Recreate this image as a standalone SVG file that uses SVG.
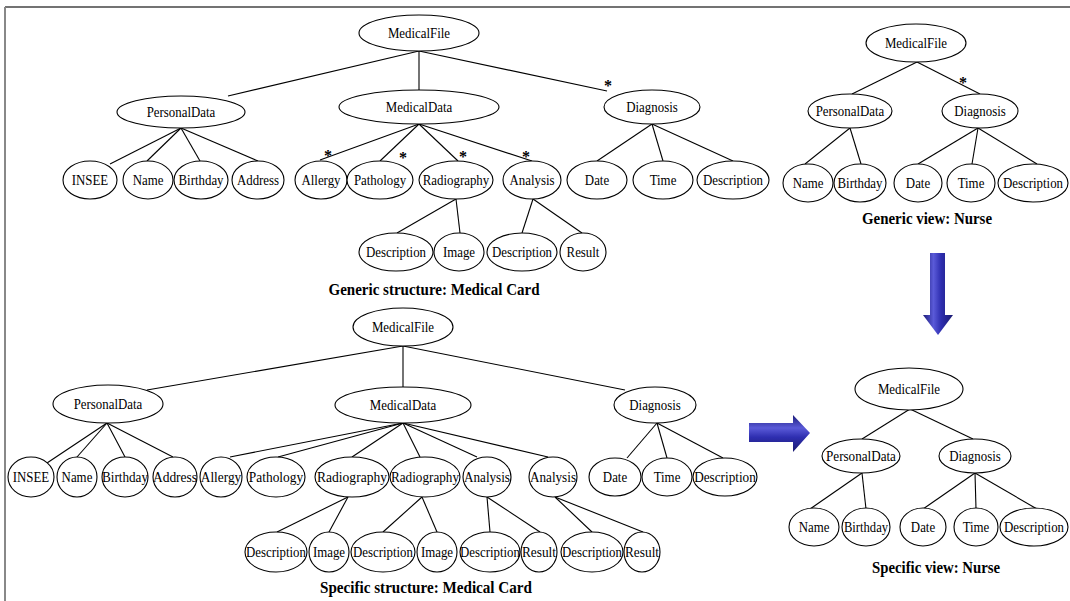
<svg xmlns="http://www.w3.org/2000/svg" width="1070" height="601" viewBox="0 0 1070 601">
<defs>
<style>
.n ellipse{fill:#fff;stroke:#000;stroke-width:1.1}
.n text{font-family:"Liberation Serif","Times New Roman",serif;font-size:14px;fill:#000;text-anchor:middle;transform-box:fill-box;transform-origin:center;transform:scaleX(0.92)}
.e line{stroke:#000;stroke-width:1.1}
.cap{font-family:"Liberation Serif","Times New Roman",serif;font-size:17px;font-weight:bold;fill:#000;text-anchor:middle}
.star{font-family:"Liberation Serif","Times New Roman",serif;font-size:16px;font-weight:bold;fill:#000;text-anchor:middle}
</style>
<linearGradient id="gv" x1="0" y1="0" x2="1" y2="0">
<stop offset="0" stop-color="#1c1c7a"/>
<stop offset="0.35" stop-color="#5a5ad8"/>
<stop offset="0.6" stop-color="#2e2eb0"/>
<stop offset="1" stop-color="#1a1a70"/>
</linearGradient>
<linearGradient id="gh" x1="0" y1="0" x2="0" y2="1">
<stop offset="0" stop-color="#1c1c7a"/>
<stop offset="0.35" stop-color="#5a5ad8"/>
<stop offset="0.6" stop-color="#2e2eb0"/>
<stop offset="1" stop-color="#1a1a70"/>
</linearGradient>
</defs>
<rect x="0" y="0" width="1070" height="601" fill="#fff"/>
<line x1="5" y1="7" x2="1070" y2="7" stroke="#444" stroke-width="1.5"/>
<line x1="5" y1="7" x2="5" y2="601" stroke="#888" stroke-width="2"/>

<g id="connectors" class="e">
<line x1="419" y1="51" x2="228" y2="96"/>
<line x1="419" y1="51" x2="419" y2="90"/>
<line x1="419" y1="51" x2="607" y2="91"/>
<line x1="181" y1="128" x2="110" y2="164"/>
<line x1="181" y1="128" x2="147" y2="161"/>
<line x1="181" y1="128" x2="200" y2="161"/>
<line x1="181" y1="128" x2="258" y2="161"/>
<line x1="419" y1="124" x2="320" y2="160"/>
<line x1="419" y1="124" x2="380" y2="161"/>
<line x1="419" y1="124" x2="458" y2="161"/>
<line x1="419" y1="124" x2="532" y2="161"/>
<line x1="652" y1="124" x2="597" y2="161"/>
<line x1="652" y1="124" x2="663" y2="161"/>
<line x1="652" y1="124" x2="733" y2="161"/>
<line x1="456" y1="199" x2="397" y2="233"/>
<line x1="456" y1="199" x2="460" y2="233"/>
<line x1="533" y1="199" x2="522" y2="233"/>
<line x1="533" y1="199" x2="582" y2="233"/>
<line x1="917" y1="62" x2="852" y2="94"/>
<line x1="917" y1="62" x2="980" y2="94"/>
<line x1="850" y1="128" x2="805" y2="164"/>
<line x1="850" y1="128" x2="861" y2="164"/>
<line x1="978" y1="128" x2="918" y2="164"/>
<line x1="978" y1="128" x2="972" y2="164"/>
<line x1="978" y1="128" x2="1037" y2="164"/>
<line x1="403" y1="346" x2="147" y2="390"/>
<line x1="403" y1="346" x2="403" y2="387"/>
<line x1="403" y1="346" x2="625" y2="390"/>
<line x1="107" y1="423" x2="47" y2="463"/>
<line x1="107" y1="423" x2="77" y2="457"/>
<line x1="107" y1="423" x2="125" y2="457"/>
<line x1="107" y1="423" x2="173" y2="457"/>
<line x1="403" y1="423" x2="230" y2="457"/>
<line x1="403" y1="423" x2="278" y2="457"/>
<line x1="403" y1="423" x2="352" y2="457"/>
<line x1="403" y1="423" x2="420" y2="457"/>
<line x1="403" y1="423" x2="477" y2="457"/>
<line x1="403" y1="423" x2="548" y2="457"/>
<line x1="657" y1="423" x2="627" y2="458"/>
<line x1="657" y1="423" x2="667" y2="458"/>
<line x1="657" y1="423" x2="723" y2="458"/>
<line x1="348" y1="497" x2="277" y2="532"/>
<line x1="348" y1="497" x2="329" y2="532"/>
<line x1="422" y1="497" x2="383" y2="532"/>
<line x1="422" y1="497" x2="437" y2="532"/>
<line x1="487" y1="497" x2="490" y2="532"/>
<line x1="487" y1="497" x2="540" y2="532"/>
<line x1="555" y1="497" x2="592" y2="532"/>
<line x1="555" y1="497" x2="643" y2="532"/>
<line x1="910" y1="409" x2="862" y2="439"/>
<line x1="910" y1="409" x2="973" y2="439"/>
<line x1="862" y1="473" x2="810" y2="509"/>
<line x1="862" y1="473" x2="866" y2="509"/>
<line x1="975" y1="473" x2="923" y2="509"/>
<line x1="975" y1="473" x2="976" y2="509"/>
<line x1="975" y1="473" x2="1037" y2="509"/>
</g>

<g id="stars">
<text class="star" x="608" y="91">*</text>
<text class="star" x="328" y="161">*</text>
<text class="star" x="403" y="163">*</text>
<text class="star" x="463" y="162">*</text>
<text class="star" x="526" y="162">*</text>
<text class="star" x="963" y="88">*</text>
</g>

<g id="gs-medicalfile" class="n"><ellipse cx="419" cy="33" rx="60" ry="18"/><text x="419" y="38">MedicalFile</text></g>
<g id="gs-personaldata" class="n"><ellipse cx="181" cy="112" rx="64" ry="16"/><text x="181" y="117">PersonalData</text></g>
<g id="gs-medicaldata" class="n"><ellipse cx="419" cy="107" rx="80" ry="17"/><text x="419" y="112">MedicalData</text></g>
<g id="gs-diagnosis" class="n"><ellipse cx="652" cy="107" rx="48" ry="17"/><text x="652" y="112">Diagnosis</text></g>
<g id="gs-insee" class="n"><ellipse cx="90" cy="180" rx="27" ry="19"/><text x="90" y="185">INSEE</text></g>
<g id="gs-name" class="n"><ellipse cx="148" cy="180" rx="25" ry="19"/><text x="148" y="185">Name</text></g>
<g id="gs-birthday" class="n"><ellipse cx="201" cy="180" rx="27" ry="19"/><text x="201" y="185">Birthday</text></g>
<g id="gs-address" class="n"><ellipse cx="258" cy="180" rx="26" ry="19"/><text x="258" y="185">Address</text></g>
<g id="gs-allergy" class="n"><ellipse cx="321" cy="180" rx="26" ry="19"/><text x="321" y="185">Allergy</text></g>
<g id="gs-pathology" class="n"><ellipse cx="380" cy="180" rx="33" ry="19"/><text x="380" y="185">Pathology</text></g>
<g id="gs-radiography" class="n"><ellipse cx="456" cy="180" rx="37" ry="19"/><text x="456" y="185">Radiography</text></g>
<g id="gs-analysis" class="n"><ellipse cx="532" cy="180" rx="29" ry="19"/><text x="532" y="185">Analysis</text></g>
<g id="gs-date" class="n"><ellipse cx="597" cy="180" rx="30" ry="19"/><text x="597" y="185">Date</text></g>
<g id="gs-time" class="n"><ellipse cx="663" cy="180" rx="30" ry="19"/><text x="663" y="185">Time</text></g>
<g id="gs-description" class="n"><ellipse cx="733" cy="180" rx="36" ry="19"/><text x="733" y="185">Description</text></g>
<g id="gs-rad-description" class="n"><ellipse cx="396" cy="252" rx="37" ry="19"/><text x="396" y="257">Description</text></g>
<g id="gs-rad-image" class="n"><ellipse cx="459" cy="252" rx="25" ry="19"/><text x="459" y="257">Image</text></g>
<g id="gs-ana-description" class="n"><ellipse cx="522" cy="252" rx="35" ry="19"/><text x="522" y="257">Description</text></g>
<g id="gs-ana-result" class="n"><ellipse cx="583" cy="252" rx="23" ry="19"/><text x="583" y="257">Result</text></g>
<text class="cap" x="434" y="295" textLength="211" lengthAdjust="spacingAndGlyphs">Generic structure: Medical Card</text>

<g id="gv-medicalfile" class="n"><ellipse cx="916" cy="43" rx="50" ry="19"/><text x="916" y="48">MedicalFile</text></g>
<g id="gv-personaldata" class="n"><ellipse cx="850" cy="111" rx="42" ry="17"/><text x="850" y="116">PersonalData</text></g>
<g id="gv-diagnosis" class="n"><ellipse cx="980" cy="111" rx="38" ry="17"/><text x="980" y="116">Diagnosis</text></g>
<g id="gv-name" class="n"><ellipse cx="808" cy="183" rx="25" ry="19"/><text x="808" y="188">Name</text></g>
<g id="gv-birthday" class="n"><ellipse cx="860" cy="183" rx="26" ry="19"/><text x="860" y="188">Birthday</text></g>
<g id="gv-date" class="n"><ellipse cx="918" cy="183" rx="24" ry="19"/><text x="918" y="188">Date</text></g>
<g id="gv-time" class="n"><ellipse cx="971" cy="183" rx="24" ry="19"/><text x="971" y="188">Time</text></g>
<g id="gv-description" class="n"><ellipse cx="1033" cy="183" rx="35" ry="19"/><text x="1033" y="188">Description</text></g>
<text class="cap" x="927" y="224" textLength="130" lengthAdjust="spacingAndGlyphs">Generic view: Nurse</text>

<g id="arrow-down"><polygon points="930,253 945,253 945,315 953,315 938,335 923,315 930,315" fill="url(#gv)"/></g>
<g id="arrow-right"><polygon points="749,423 793,423 793,415 810,433 793,452 793,442 749,442" fill="url(#gh)"/></g>

<g id="ss-medicalfile" class="n"><ellipse cx="403" cy="327" rx="50" ry="19"/><text x="403" y="332">MedicalFile</text></g>
<g id="ss-personaldata" class="n"><ellipse cx="108" cy="404" rx="55" ry="19"/><text x="108" y="409">PersonalData</text></g>
<g id="ss-medicaldata" class="n"><ellipse cx="403" cy="405" rx="68" ry="18"/><text x="403" y="410">MedicalData</text></g>
<g id="ss-diagnosis" class="n"><ellipse cx="655" cy="405" rx="41" ry="18"/><text x="655" y="410">Diagnosis</text></g>
<g id="ss-insee" class="n"><ellipse cx="31" cy="477" rx="23" ry="20"/><text x="31" y="482">INSEE</text></g>
<g id="ss-name" class="n"><ellipse cx="77" cy="477" rx="20" ry="20"/><text x="77" y="482">Name</text></g>
<g id="ss-birthday" class="n"><ellipse cx="125" cy="477" rx="23" ry="20"/><text x="125" y="482" textLength="50" lengthAdjust="spacingAndGlyphs">Birthday</text></g>
<g id="ss-address" class="n"><ellipse cx="175" cy="477" rx="22" ry="20"/><text x="175" y="482" textLength="48" lengthAdjust="spacingAndGlyphs">Address</text></g>
<g id="ss-allergy" class="n"><ellipse cx="221" cy="477" rx="21" ry="20"/><text x="221" y="482" textLength="44" lengthAdjust="spacingAndGlyphs">Allergy</text></g>
<g id="ss-pathology" class="n"><ellipse cx="276" cy="477" rx="29" ry="20"/><text x="276" y="482" textLength="59" lengthAdjust="spacingAndGlyphs">Pathology</text></g>
<g id="ss-radiography1" class="n"><ellipse cx="352" cy="477" rx="37" ry="20"/><text x="352" y="482" textLength="76" lengthAdjust="spacingAndGlyphs">Radiography</text></g>
<g id="ss-radiography2" class="n"><ellipse cx="425" cy="477" rx="35" ry="20"/><text x="425" y="482" textLength="74" lengthAdjust="spacingAndGlyphs">Radiography</text></g>
<g id="ss-analysis1" class="n"><ellipse cx="487" cy="477" rx="24" ry="20"/><text x="487" y="482" textLength="50" lengthAdjust="spacingAndGlyphs">Analysis</text></g>
<g id="ss-analysis2" class="n"><ellipse cx="553" cy="477" rx="24" ry="20"/><text x="553" y="482" textLength="50" lengthAdjust="spacingAndGlyphs">Analysis</text></g>
<g id="ss-date" class="n"><ellipse cx="615" cy="477" rx="26" ry="19"/><text x="615" y="482">Date</text></g>
<g id="ss-time" class="n"><ellipse cx="667" cy="477" rx="25" ry="19"/><text x="667" y="482">Time</text></g>
<g id="ss-description" class="n"><ellipse cx="725" cy="477" rx="32" ry="19"/><text x="725" y="482" textLength="67" lengthAdjust="spacingAndGlyphs">Description</text></g>
<g id="ss-rad1-description" class="n"><ellipse cx="276" cy="552" rx="31" ry="20"/><text x="276" y="557" textLength="65" lengthAdjust="spacingAndGlyphs">Description</text></g>
<g id="ss-rad1-image" class="n"><ellipse cx="329" cy="552" rx="20" ry="20"/><text x="329" y="557">Image</text></g>
<g id="ss-rad2-description" class="n"><ellipse cx="383" cy="552" rx="32" ry="20"/><text x="383" y="557" textLength="65" lengthAdjust="spacingAndGlyphs">Description</text></g>
<g id="ss-rad2-image" class="n"><ellipse cx="437" cy="552" rx="20" ry="20"/><text x="437" y="557">Image</text></g>
<g id="ss-ana1-description" class="n"><ellipse cx="490" cy="552" rx="30" ry="20"/><text x="490" y="557" textLength="65" lengthAdjust="spacingAndGlyphs">Description</text></g>
<g id="ss-ana1-result" class="n"><ellipse cx="539" cy="552" rx="18" ry="20"/><text x="539" y="557" textLength="37" lengthAdjust="spacingAndGlyphs">Result</text></g>
<g id="ss-ana2-description" class="n"><ellipse cx="592" cy="552" rx="31" ry="20"/><text x="592" y="557" textLength="65" lengthAdjust="spacingAndGlyphs">Description</text></g>
<g id="ss-ana2-result" class="n"><ellipse cx="642" cy="552" rx="18" ry="20"/><text x="642" y="557" textLength="37" lengthAdjust="spacingAndGlyphs">Result</text></g>
<text class="cap" x="426" y="593" textLength="212" lengthAdjust="spacingAndGlyphs">Specific structure: Medical Card</text>

<g id="sv-medicalfile" class="n"><ellipse cx="909" cy="389" rx="54" ry="21"/><text x="909" y="394">MedicalFile</text></g>
<g id="sv-personaldata" class="n"><ellipse cx="861" cy="456" rx="39" ry="17"/><text x="861" y="461" textLength="76" lengthAdjust="spacingAndGlyphs">PersonalData</text></g>
<g id="sv-diagnosis" class="n"><ellipse cx="975" cy="456" rx="36" ry="17"/><text x="975" y="461">Diagnosis</text></g>
<g id="sv-name" class="n"><ellipse cx="814" cy="527" rx="25" ry="19"/><text x="814" y="532">Name</text></g>
<g id="sv-birthday" class="n"><ellipse cx="866" cy="527" rx="24" ry="19"/><text x="866" y="532" textLength="48" lengthAdjust="spacingAndGlyphs">Birthday</text></g>
<g id="sv-date" class="n"><ellipse cx="923" cy="527" rx="23" ry="19"/><text x="923" y="532">Date</text></g>
<g id="sv-time" class="n"><ellipse cx="976" cy="527" rx="22" ry="19"/><text x="976" y="532">Time</text></g>
<g id="sv-description" class="n"><ellipse cx="1034" cy="527" rx="34" ry="19"/><text x="1034" y="532">Description</text></g>
<text class="cap" x="936" y="573" textLength="128" lengthAdjust="spacingAndGlyphs">Specific view: Nurse</text>
</svg>
